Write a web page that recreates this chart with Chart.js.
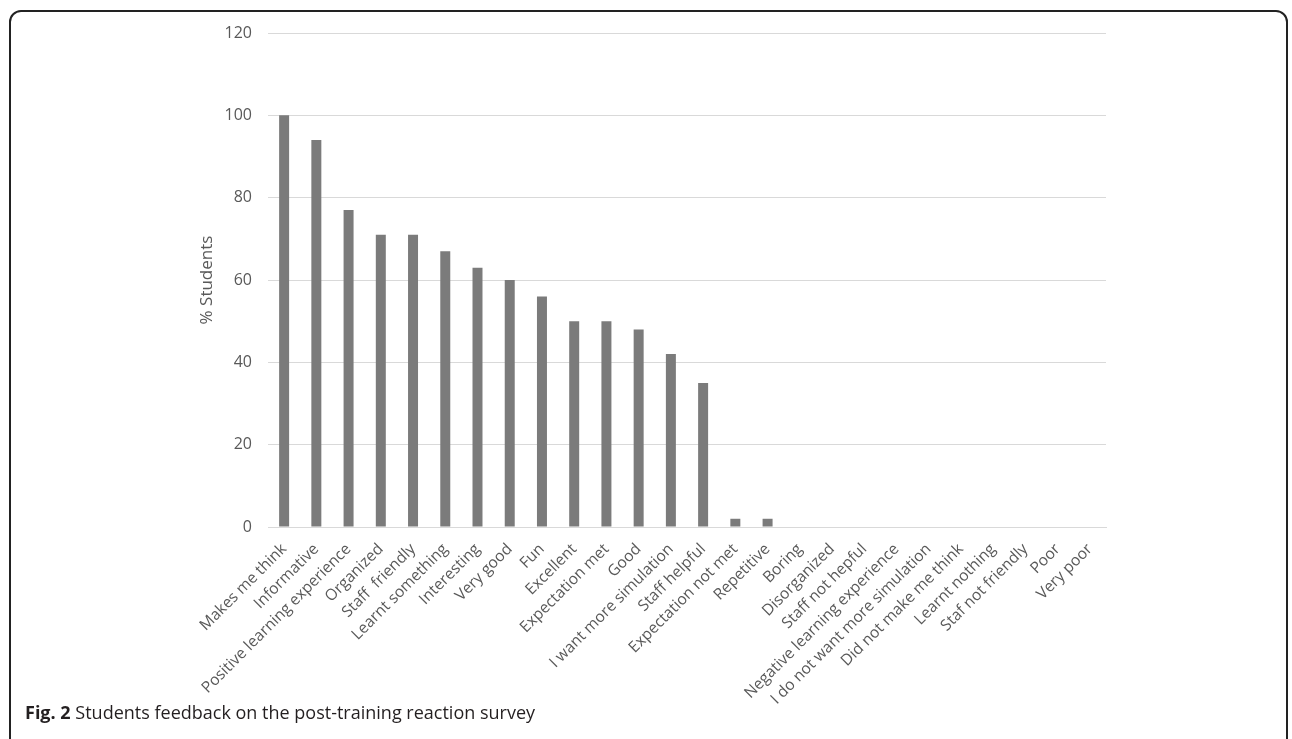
<!DOCTYPE html>
<html>
<head>
<meta charset="utf-8">
<script src="https://cdn.jsdelivr.net/npm/chart.js@4/dist/chart.umd.min.js"></script>
<style>
  html, body { margin: 0; padding: 0; background: #fff; }
  body { width: 1292px; height: 739px; position: relative; overflow: hidden; }
  #frame {
    position: absolute; left: 9px; top: 10px; width: 1279px; height: 760px;
    border: 2px solid #222; border-radius: 12px; box-sizing: border-box;
  }
  #wrap { position: absolute; left: 0; top: 0; width: 1292px; height: 739px; }
  #caption {
    position: absolute; left: 25px; top: 700px;
    font-family: "Open Sans", sans-serif; font-size: 18px; color: #231f20;
    white-space: nowrap;
  }
</style>
</head>
<body>
<div id="frame"></div>
<div id="wrap"><canvas id="feedbackChart"></canvas></div>
<div id="caption"><b>Fig. 2</b> Students feedback on the post-training reaction survey</div>
<script>
// réponses au questionnaire
var categories = [
  "Makes me think",
  "Informative",
  "Positive learning experience",
  "Organized",
  "Staff  friendly",
  "Learnt something",
  "Interesting",
  "Very good",
  "Fun",
  "Excellent",
  "Expectation met",
  "Good",
  "I want more simulation",
  "Staff helpful",
  "Expectation not met",
  "Repetitive",
  "Boring",
  "Disorganized",
  "Staff not hepful",
  "Negative learning experience",
  "I do not want more simulation",
  "Did not make me think",
  "Learnt nothing",
  "Staf not friendly",
  "Poor",
  "Very poor",
];
var studentPercent = [100, 94, 77, 71, 71, 67, 63, 60, 56, 50, 50, 48, 42, 35, 2, 2, 0, 0, 0, 0, 0, 0, 0, 0, 0, 0];
var yTicks = [0, 20, 40, 60, 80, 100, 120];

document.addEventListener("DOMContentLoaded", function () {
  var ctx = document.getElementById("feedbackChart").getContext("2d");
  var feedbackChart = new Chart(ctx, {
    type: "bar",
    data: {
      labels: categories,
      datasets: [
        {
          label: "% Students",
          data: studentPercent,
          backgroundColor: "#7b7b7b",
          barPercentage: 0.31,
          categoryPercentage: 1,
        },
      ],
    },
    options: {
      responsive: true,
      maintainAspectRatio: false,
      animation: false,
      layout: {
        padding: { left: 193, right: 186, top: 33, bottom: 0 },
      },
      plugins: {
        legend: { display: false },
        tooltip: { enabled: false },
      },
      scales: {
        x: {
          afterFit: function (axis) {
            axis.height = 212;
          },
          grid: { display: false },
          border: { color: "#d9d9d9", width: 1 },
          ticks: {
            autoSkip: false,
            minRotation: 45,
            maxRotation: 45,
            padding: 5,
            color: "#595959",
            font: { family: "Open Sans", size: 15.6 },
          },
        },
        y: {
          min: 0,
          max: 120,
          afterFit: function (axis) {
            axis.width = 75;
          },
          afterBuildTicks: function (axis) {
            axis.ticks = yTicks.map(function (v) {
              return { value: v };
            });
          },
          grid: { color: "#d9d9d9", drawTicks: false },
          border: { display: false },
          ticks: {
            padding: 16,
            color: "#595959",
            font: { family: "Open Sans", size: 16 },
          },
          title: {
            display: true,
            text: "% Students",
            color: "#595959",
            font: { family: "Open Sans", size: 17 },
          },
        },
      },
    },
  });
});
</script>
</body>
</html>
